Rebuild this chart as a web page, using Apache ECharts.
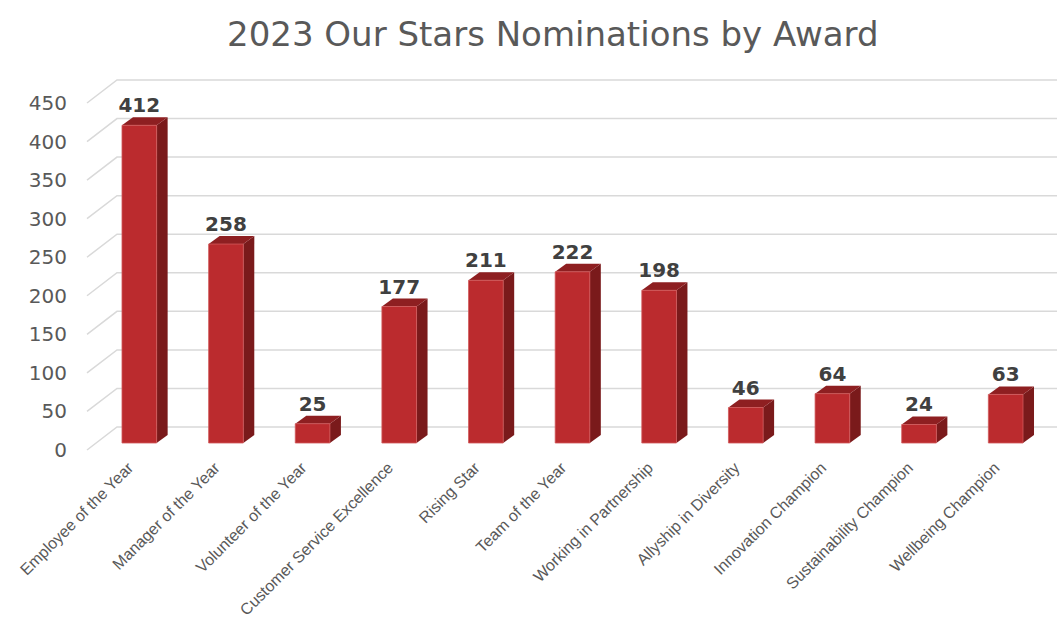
<!DOCTYPE html>
<html>
<head>
<meta charset="utf-8">
<script src="https://cdn.jsdelivr.net/npm/echarts@6/dist/echarts.min.js"></script>
<style>
  html, body { margin: 0; padding: 0; background: #fff; }
  #chart { width: 1057px; height: 626px; }
</style>
</head>
<body>
<div id="chart"></div>
<script>
// award categories and nomination counts
const awards = [
  'Employee of the Year', 'Manager of the Year', 'Volunteer of the Year',
  'Customer Service Excellence', 'Rising Star', 'Team of the Year',
  'Working in Partnership', 'Allyship in Diversity', 'Innovation Champion',
  'Sustainability Champion', 'Wellbeing Champion'
];
const nominations = [412, 258, 25, 177, 211, 222, 198, 46, 64, 24, 63];
const yTicks = [0, 50, 100, 150, 200, 250, 300, 350, 400, 450];

// fake 3d look, excel style
const WALL_DX = 30, WALL_DY = -23;   // back wall offset from the front plane
const BAR_OX = 9, BAR_OY = -7;       // bar front face offset
const BAR_DX = 11, BAR_DY = -8;      // bar depth

const chart = echarts.init(document.getElementById('chart'), null, { renderer: 'svg' });

function renderWall(params, api) {
  const cs = params.coordSys;
  const y = api.coord([0, api.value(1)])[1];
  return {
    type: 'polyline',
    silent: true,
    shape: {
      points: [
        [cs.x, y],
        [cs.x + WALL_DX, y + WALL_DY],
        [cs.x + cs.width + WALL_DX + 40, y + WALL_DY]
      ]
    },
    style: { stroke: '#d9d9d9', lineWidth: 1.5, fill: null }
  };
}

function renderBar(params, api) {
  const base = api.coord([api.value(0), 0]);
  const top = api.coord([api.value(0), api.value(1)]);
  const bw = api.size([1, 0])[0] * 0.4;
  const xl = top[0] - bw / 2 + BAR_OX;
  const xr = xl + bw;
  const yt = top[1] + BAR_OY;
  const yb = base[1] + BAR_OY;
  return {
    type: 'group',
    children: [
      {
        type: 'polygon',
        shape: { points: [[xr, yt], [xr + BAR_DX, yt + BAR_DY], [xr + BAR_DX, yb + BAR_DY], [xr, yb]] },
        style: { fill: '#7a1a1b' }
      },
      {
        type: 'polygon',
        shape: { points: [[xl, yt], [xl + BAR_DX, yt + BAR_DY], [xr + BAR_DX, yt + BAR_DY], [xr, yt]] },
        style: { fill: '#8e1f21' }
      },
      {
        type: 'rect',
        shape: { x: xl, y: yt, width: bw, height: yb - yt },
        style: { fill: '#bb2b2e', stroke: '#d0595b', lineWidth: 0.8 }
      },
      {
        type: 'text',
        x: (xl + xr) / 2,
        y: yt - 10,
        style: {
          text: String(api.value(1)),
          fill: '#404040',
          font: 'bold 20px "DejaVu Sans", sans-serif',
          align: 'center',
          verticalAlign: 'bottom'
        }
      }
    ]
  };
}

chart.setOption({
  backgroundColor: '#fff',
  animation: false,
  title: {
    text: '2023 Our Stars Nominations by Award',
    left: 222,
    top: 12,
    textStyle: {
      color: '#595959',
      fontSize: 34,
      fontWeight: 'normal',
      fontFamily: '"DejaVu Sans", sans-serif'
    }
  },
  grid: { left: 87, right: 17, top: 103, bottom: 176, outerBoundsMode: 'none', containLabel: false },
  xAxis: {
    type: 'category',
    data: awards,
    axisLine: { show: false },
    axisTick: { show: false },
    axisLabel: {
      interval: 0,
      rotate: 45,
      margin: 15,
      color: '#595959',
      fontSize: 16,
      fontFamily: '"Liberation Sans", Arial, sans-serif'
    }
  },
  yAxis: {
    type: 'value',
    min: 0,
    max: 450,
    interval: 50,
    axisLine: { show: false },
    axisTick: { show: false },
    splitLine: { show: false },
    axisLabel: {
      margin: 20,
      color: '#595959',
      fontSize: 20,
      fontFamily: '"DejaVu Sans", sans-serif'
    }
  },
  series: [
    {
      type: 'custom',
      name: 'wall',
      silent: true,
      renderItem: renderWall,
      encode: { x: 0, y: 1 },
      data: yTicks.map(v => [0, v]),
      z: 1
    },
    {
      type: 'custom',
      name: 'Nominations',
      renderItem: renderBar,
      encode: { x: 0, y: 1 },
      data: nominations.map((v, i) => [i, v]),
      z: 2
    }
  ]
});
</script>
</body>
</html>
